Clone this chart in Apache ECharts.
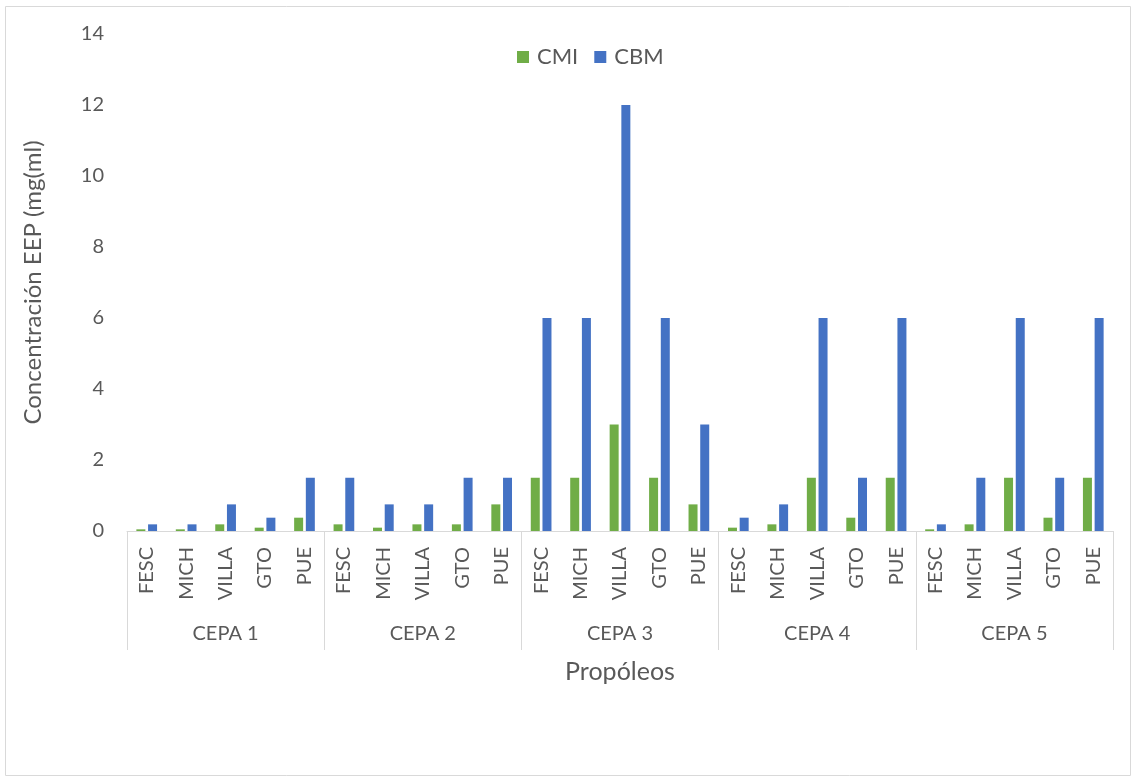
<!DOCTYPE html>
<html>
<head>
<meta charset="utf-8">
<script src="https://cdn.jsdelivr.net/npm/echarts@6/dist/echarts.min.js"></script>
<style>
  html, body { margin: 0; padding: 0; background: #fff; }
  #chart { width: 1133px; height: 778px; }
</style>
</head>
<body>
<div id="chart"></div>
<script>
// Grupos (cepas) y propóleos evaluados en cada uno
const cepas = ['CEPA 1', 'CEPA 2', 'CEPA 3', 'CEPA 4', 'CEPA 5'];
const propoleos = ['FESC', 'MICH', 'VILLA', 'GTO', 'PUE'];

// Concentración EEP (mg/ml) por cepa, en el orden de propoleos
const cmi = [
  0.047, 0.047, 0.1875, 0.094, 0.375,
  0.1875, 0.094, 0.1875, 0.1875, 0.75,
  1.5, 1.5, 3, 1.5, 0.75,
  0.094, 0.1875, 1.5, 0.375, 1.5,
  0.047, 0.1875, 1.5, 0.375, 1.5
];
const cbm = [
  0.1875, 0.1875, 0.75, 0.375, 1.5,
  1.5, 0.75, 0.75, 1.5, 1.5,
  6, 6, 12, 6, 3,
  0.375, 0.75, 6, 1.5, 6,
  0.1875, 1.5, 6, 1.5, 6
];
const yTicks = { min: 0, max: 14, interval: 2 };

const innerLabels = [];
cepas.forEach(() => propoleos.forEach(p => innerLabels.push(p)));

const FONT = 'Lato';
const TXT = '#595959';
const LINE = '#D9D9D9';

const chart = echarts.init(document.getElementById('chart'));
chart.setOption({
  animation: false,
  textStyle: { fontFamily: FONT },
  graphic: [{
    type: 'rect',
    shape: { x: 5.5, y: 6.5, width: 1125, height: 769 },
    style: { fill: 'none', stroke: LINE, lineWidth: 1 },
    silent: true
  }],
  legend: {
    top: 41,
    left: 512,
    itemWidth: 12,
    itemHeight: 12,
    itemGap: 16,
    icon: 'rect',
    textStyle: { fontFamily: FONT, fontSize: 22, color: TXT, padding: [0, 0, 0, 3] },
    data: ['CMI', 'CBM']
  },
  grid: { left: 127, right: 20, top: 34, bottom: 247, containLabel: false },
  xAxis: [{
    type: 'category',
    data: innerLabels,
    axisLine: { show: true, lineStyle: { color: LINE, width: 1 } },
    axisTick: { show: false },
    axisLabel: {
      rotate: 90, interval: 0, margin: 16,
      fontFamily: FONT, fontSize: 20, color: TXT
    }
  }, {
    type: 'category',
    data: cepas,
    position: 'bottom',
    axisLine: { show: false },
    axisTick: { show: true, length: 119, lineStyle: { color: LINE, width: 1 } },
    axisLabel: { interval: 0, margin: 93, fontFamily: FONT, fontSize: 20, color: TXT },
    name: 'Propóleos',
    nameLocation: 'middle',
    nameGap: 128,
    nameTextStyle: { fontFamily: FONT, fontSize: 25, color: TXT }
  }],
  yAxis: {
    type: 'value',
    min: yTicks.min, max: yTicks.max, interval: yTicks.interval,
    axisLine: { show: false },
    axisTick: { show: false },
    splitLine: { show: false },
    axisLabel: { margin: 23, fontFamily: FONT, fontSize: 20, color: TXT },
    name: 'Concentración EEP (mg(ml)',
    nameLocation: 'middle',
    nameGap: 82,
    nameTextStyle: { fontFamily: FONT, fontSize: 24, color: TXT }
  },
  series: [{
    name: 'CMI', type: 'bar', data: cmi, xAxisIndex: 0,
    barWidth: 9, barGap: '30%',
    itemStyle: { color: '#70AD47' }
  }, {
    name: 'CBM', type: 'bar', data: cbm, xAxisIndex: 0,
    barWidth: 9, barGap: '30%',
    itemStyle: { color: '#4472C4' }
  }]
});
</script>
</body>
</html>
